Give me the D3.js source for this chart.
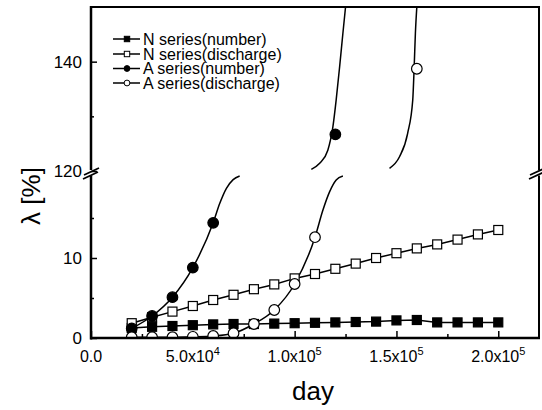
<!DOCTYPE html>
<html><head><meta charset="utf-8">
<script src="https://cdn.jsdelivr.net/npm/d3@7"></script>
<style>body{margin:0;background:#fff}svg{display:block}text{font-family:"Liberation Sans",Arial,sans-serif;fill:#000}</style>
</head><body>
<svg id="c" width="542" height="410"></svg>
<script>
// ---- data ----
const seriesNames = ["N series(number)", "N series(discharge)", "A series(number)", "A series(discharge)"];
const nDays = [20000,30000,40000,50000,60000,70000,80000,90000,100000,110000,120000,130000,140000,150000,160000,170000,180000,190000,200000];
const nNumber = [1.25,1.4,1.5,1.6,1.7,1.75,1.75,1.8,1.85,1.9,1.95,2.0,2.05,2.2,2.25,1.95,1.95,1.95,1.95];
const nDischarge = [1.85,2.6,3.3,4.0,4.75,5.4,6.1,6.7,7.45,8.0,8.65,9.3,10.0,10.6,11.2,11.7,12.3,12.95,13.5];
const aNumberDays = [20000,30000,40000,50000,60000,120000];
const aNumber = [1.2,2.75,5.1,8.8,14.4,126.7];
const aDischargeDays = [20000,30000,40000,50000,60000,70000,80000,90000,100000,110000,160000];
const aDischarge = [0.1,0.1,0.1,0.15,0.25,0.6,1.75,3.5,6.75,12.6,138.7];
// fitted curves: [day, %]
const aNumberCurveLow = [[20000,1.2],[30000,2.75],[40000,5.1],[50000,8.8],[60000,14.4],[63200,16.8],[66500,18.7],[69800,19.8],[73000,20.25]];
const aNumberCurveUp = [[108200,120.3],[112300,121.4],[116300,123.8],[118800,128.1],[120400,133.0],[122100,139.1],[123700,145.2],[125000,150]];
const aDischargeCurveLow = [[20000,0.1],[30000,0.1],[40000,0.1],[50000,0.15],[60000,0.25],[70000,0.6],[80000,1.75],[90000,3.5],[100000,6.75],[110000,12.6],[113900,16.0],[117200,18.3],[120400,19.75],[123700,20.25]];
const aDischargeCurveUp = [[146600,120.5],[151500,122.6],[155500,126.9],[158000,133.0],[158700,139.0],[159300,145.2],[160000,150]];
const xTicks = [0,50000,100000,150000,200000];
const xTickMant = ["0.0","5.0x10","1.0x10","1.5x10","2.0x10"];
const xTickExp = ["","4","5","5","5"];
const xMinor = [25000,75000,125000,175000];
const yLowTicks = [0,10];
const yLowMinor = [5,15];
const yUpTicks = [120,140];
const yUpMinor = [130];

// ---- scales ----
const svg = d3.select("#c");
const L = 91, R = 539, T = 7, B = 338, BRK = 173;
const x = d3.scaleLinear().domain([0,220000]).range([L,R]);
const yLow = d3.scaleLinear().domain([0,20.75]).range([B,172]);
const yUp = d3.scaleLinear().domain([120,150]).range([171,T]);
const yPos = v => v >= 100 ? yUp(v) : yLow(v);

// clip paths
const defs = svg.append("defs");
defs.append("clipPath").attr("id","clipLow").append("rect").attr("x",L).attr("y",172).attr("width",R-L).attr("height",B-172);
defs.append("clipPath").attr("id","clipUp").append("rect").attr("x",L).attr("y",T).attr("width",R-L).attr("height",171-T);
defs.append("clipPath").attr("id","clipAll").append("rect").attr("x",L).attr("y",T).attr("width",R-L).attr("height",B-T);

// ---- axes (ticks) ----
const gx = svg.append("g").attr("transform",`translate(0,${B})`)
  .call(d3.axisBottom(x).tickValues(xTicks).tickSizeInner(-7).tickSizeOuter(0).tickFormat(""));
gx.select(".domain").remove();
gx.selectAll("line").attr("stroke","#000").attr("stroke-width",1.5);
svg.append("g").attr("transform",`translate(0,${B})`)
  .call(d3.axisBottom(x).tickValues(xMinor).tickSizeInner(-4).tickSizeOuter(0).tickFormat(""))
  .call(g=>{g.select(".domain").remove(); g.selectAll("line").attr("stroke","#000").attr("stroke-width",1.5);});
// x labels with superscripts
const xl = svg.append("g");
xTicks.forEach((t,i)=>{
  const tx = xl.append("text").attr("x",x(t)).attr("y",362).attr("text-anchor","middle").attr("font-size",16);
  tx.append("tspan").text(xTickMant[i]);
  if (xTickExp[i]) tx.append("tspan").attr("font-size",11).attr("dy",-7).text(xTickExp[i]);
});

function yAxis(scale, ticks, minor) {
  const g = svg.append("g").attr("transform",`translate(${L},0)`)
    .call(d3.axisLeft(scale).tickValues(ticks).tickSizeInner(-6).tickSizeOuter(0).tickPadding(12).tickFormat(d3.format("d")));
  g.select(".domain").remove();
  g.selectAll("line").attr("stroke","#000").attr("stroke-width",1.5);
  g.selectAll("text").attr("font-size",17).attr("font-family","Liberation Sans, Arial, sans-serif").attr("fill","#000").attr("x",-9);
  const m = svg.append("g").attr("transform",`translate(${L},0)`)
    .call(d3.axisLeft(scale).tickValues(minor).tickSizeInner(-3).tickSizeOuter(0).tickFormat(""));
  m.select(".domain").remove();
  m.selectAll("line").attr("stroke","#000").attr("stroke-width",1.5);
  return g;
}
yAxis(yLow, yLowTicks, yLowMinor);
yAxis(yUp, yUpTicks, yUpMinor);

// ---- data marks ----
const plot = svg.append("g");
// N series straight lines
plot.append("path").datum(nDays.map((d,i)=>[d,nNumber[i]]))
  .attr("d", d3.line().x(d=>x(d[0])).y(d=>yLow(d[1]))).attr("fill","none").attr("stroke","#000").attr("stroke-width",1.5);
plot.append("path").datum(nDays.map((d,i)=>[d,nDischarge[i]]))
  .attr("d", d3.line().x(d=>x(d[0])).y(d=>yLow(d[1]))).attr("fill","none").attr("stroke","#000").attr("stroke-width",1.5);
// A curves
[[aNumberCurveLow,"clipLow",yLow],[aDischargeCurveLow,"clipLow",yLow],[aNumberCurveUp,"clipUp",yUp],[aDischargeCurveUp,"clipUp",yUp]].forEach(([data,clip,sc])=>{
  plot.append("path").datum(data).attr("clip-path",`url(#${clip})`)
    .attr("d", d3.line().x(d=>x(d[0])).y(d=>sc(d[1])).curve(d3.curveMonotoneX)(data))
    .attr("fill","none").attr("stroke","#000").attr("stroke-width",1.5);
});
const marks = svg.append("g").attr("clip-path","url(#clipAll)");
const SQ = 9, CR = 5.3;
function squares(days, vals, filled) {
  marks.append("g").selectAll("rect").data(days.map((d,i)=>[d,vals[i]])).join("rect")
    .attr("x",d=>x(d[0])-SQ/2).attr("y",d=>yPos(d[1])-SQ/2).attr("width",SQ).attr("height",SQ)
    .attr("fill",filled?"#000":"#fff").attr("stroke","#000").attr("stroke-width",1.2);
}
function circles(days, vals, filled) {
  marks.append("g").selectAll("circle").data(days.map((d,i)=>[d,vals[i]])).join("circle")
    .attr("cx",d=>x(d[0])).attr("cy",d=>yPos(d[1])).attr("r",CR)
    .attr("fill",filled?"#000":"#fff").attr("stroke","#000").attr("stroke-width",1.2);
}
squares(nDays, nNumber, true);
squares(nDays, nDischarge, false);
circles(aNumberDays, aNumber, true);
circles(aDischargeDays, aDischarge, false);

// ---- frame with axis break ----
const fr = svg.append("g").attr("stroke","#000").attr("fill","none");
fr.append("line").attr("x1",L).attr("x2",L).attr("y1",B+1.5).attr("y2",BRK+2.5).attr("stroke-width",2.5);
fr.append("line").attr("x1",L).attr("x2",L).attr("y1",BRK-3).attr("y2",T-1).attr("stroke-width",2.5);
fr.append("line").attr("x1",L-1).attr("x2",R+1).attr("y1",B).attr("y2",B).attr("stroke-width",2.5);
fr.append("line").attr("x1",L-1).attr("x2",R+1).attr("y1",T).attr("y2",T).attr("stroke-width",2);
fr.append("line").attr("x1",R).attr("x2",R).attr("y1",B+1).attr("y2",BRK+2.5).attr("stroke-width",2);
fr.append("line").attr("x1",R).attr("x2",R).attr("y1",BRK-3).attr("y2",T).attr("stroke-width",2);
[L,R-2].forEach(cx=>{
  fr.append("line").attr("x1",cx-8).attr("y1",BRK+6).attr("x2",cx+7).attr("y2",BRK-1).attr("stroke-width",1.8);
  fr.append("line").attr("x1",cx-7).attr("y1",BRK+2).attr("x2",cx+8).attr("y2",BRK-5).attr("stroke-width",1.8);
});

// ---- legend ----
const legY = [39,54,68.5,83];
const lg = svg.append("g");
seriesNames.forEach((n,i)=>{
  const y = legY[i];
  lg.append("line").attr("x1",113).attr("x2",140).attr("y1",y).attr("y2",y).attr("stroke","#000").attr("stroke-width",1.5);
  if (i<2) lg.append("rect").attr("x",127-2.7).attr("y",y-2.7).attr("width",5.4).attr("height",5.4)
      .attr("fill",i===0?"#000":"#fff").attr("stroke","#000").attr("stroke-width",1);
  else lg.append("circle").attr("cx",127).attr("cy",y).attr("r",2.9)
      .attr("fill",i===2?"#000":"#fff").attr("stroke","#000").attr("stroke-width",1);
  lg.append("text").attr("x",143).attr("y",y).attr("dy","0.35em").attr("font-size",16).text(n);
});

// ---- axis titles ----
svg.append("text").attr("transform","translate(40,196) rotate(-90)").attr("text-anchor","middle")
  .attr("font-size",26).text("λ [%]");
svg.append("text").attr("x",313).attr("y",400).attr("text-anchor","middle").attr("font-size",26).text("day");
</script>
</body></html>
